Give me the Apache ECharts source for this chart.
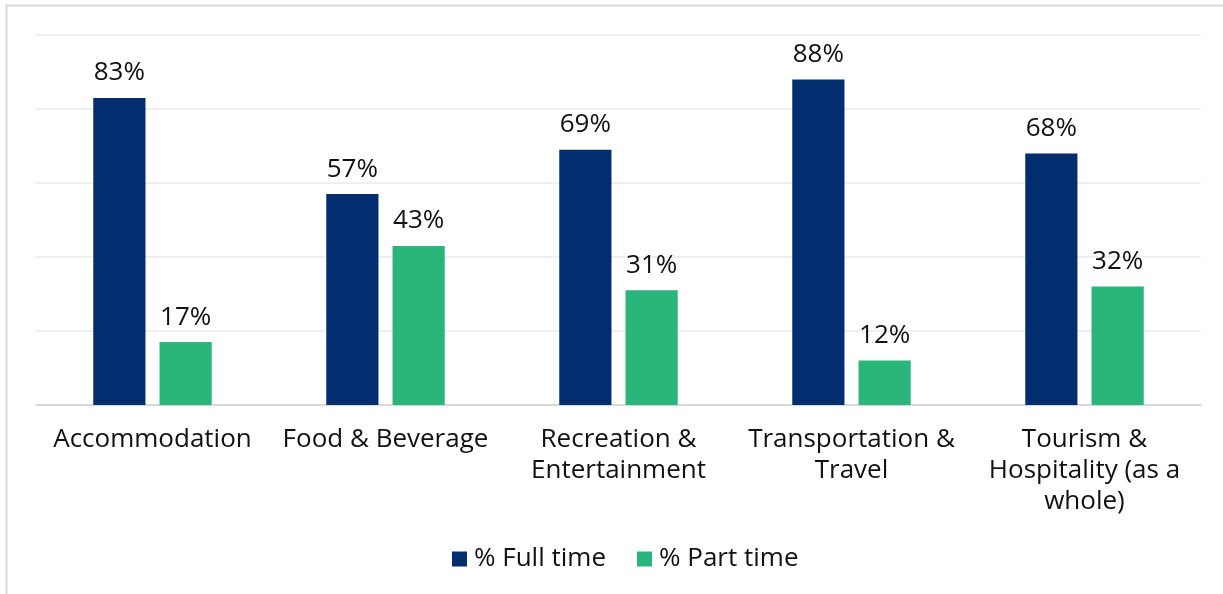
<!DOCTYPE html>
<html><head><meta charset="utf-8">
<script src="https://cdn.jsdelivr.net/npm/echarts@6/dist/echarts.min.js"></script>
<style>html,body{margin:0;padding:0;background:#fff}#c{width:1223px;height:594px}</style>
</head><body><div id="c"></div>
<script>
const categories = ["Accommodation", "Food & Beverage", "Recreation &\nEntertainment", "Transportation &\nTravel", "Tourism &\nHospitality (as a\nwhole)"];
const fullTime = [83, 57, 69, 88, 68];
const partTime = [17, 43, 31, 12, 32];
const seriesNames = ["% Full time", "% Part time"];
const FONT = "Open Sans";
const chart = echarts.init(document.getElementById('c'));
const lbl = {show:true, position:'top', distance:12, formatter:'{c}%', fontFamily:FONT, fontSize:26, color:'#111'};
chart.setOption({
  animation:false,
  backgroundColor:'#fff',
  graphic:[{type:'rect', shape:{x:6.5,y:5.5,width:1240,height:620}, style:{fill:'none', stroke:'#d9d9d9', lineWidth:2}, silent:true}],
  grid:{left:36, right:22, top:35, bottom:189, containLabel:false},
  legend:{bottom:17, left:447, itemWidth:15, itemHeight:15, itemGap:31, icon:'rect',
    textStyle:{fontFamily:FONT, fontSize:26, color:'#111', padding:[0,0,0,2]}, data:seriesNames},
  xAxis:{type:'category', data:categories,
    axisLine:{lineStyle:{color:'#d9d9d9', width:2}}, axisTick:{show:false},
    axisLabel:{fontFamily:FONT, fontSize:26, color:'#111', lineHeight:31, margin:19, interval:0}},
  yAxis:{type:'value', min:0, max:100, interval:20, axisLabel:{show:false}, axisLine:{show:false}, axisTick:{show:false},
    splitLine:{lineStyle:{color:'#efefef', width:2}}},
  series:[
    {name:seriesNames[0], type:'bar', data:fullTime, barWidth:'22.4%', barGap:'27%', itemStyle:{color:'#022d6e'}, label:lbl},
    {name:seriesNames[1], type:'bar', data:partTime, barWidth:'22.4%', itemStyle:{color:'#2ab67a'}, label:lbl}
  ]
});
</script></body></html>
